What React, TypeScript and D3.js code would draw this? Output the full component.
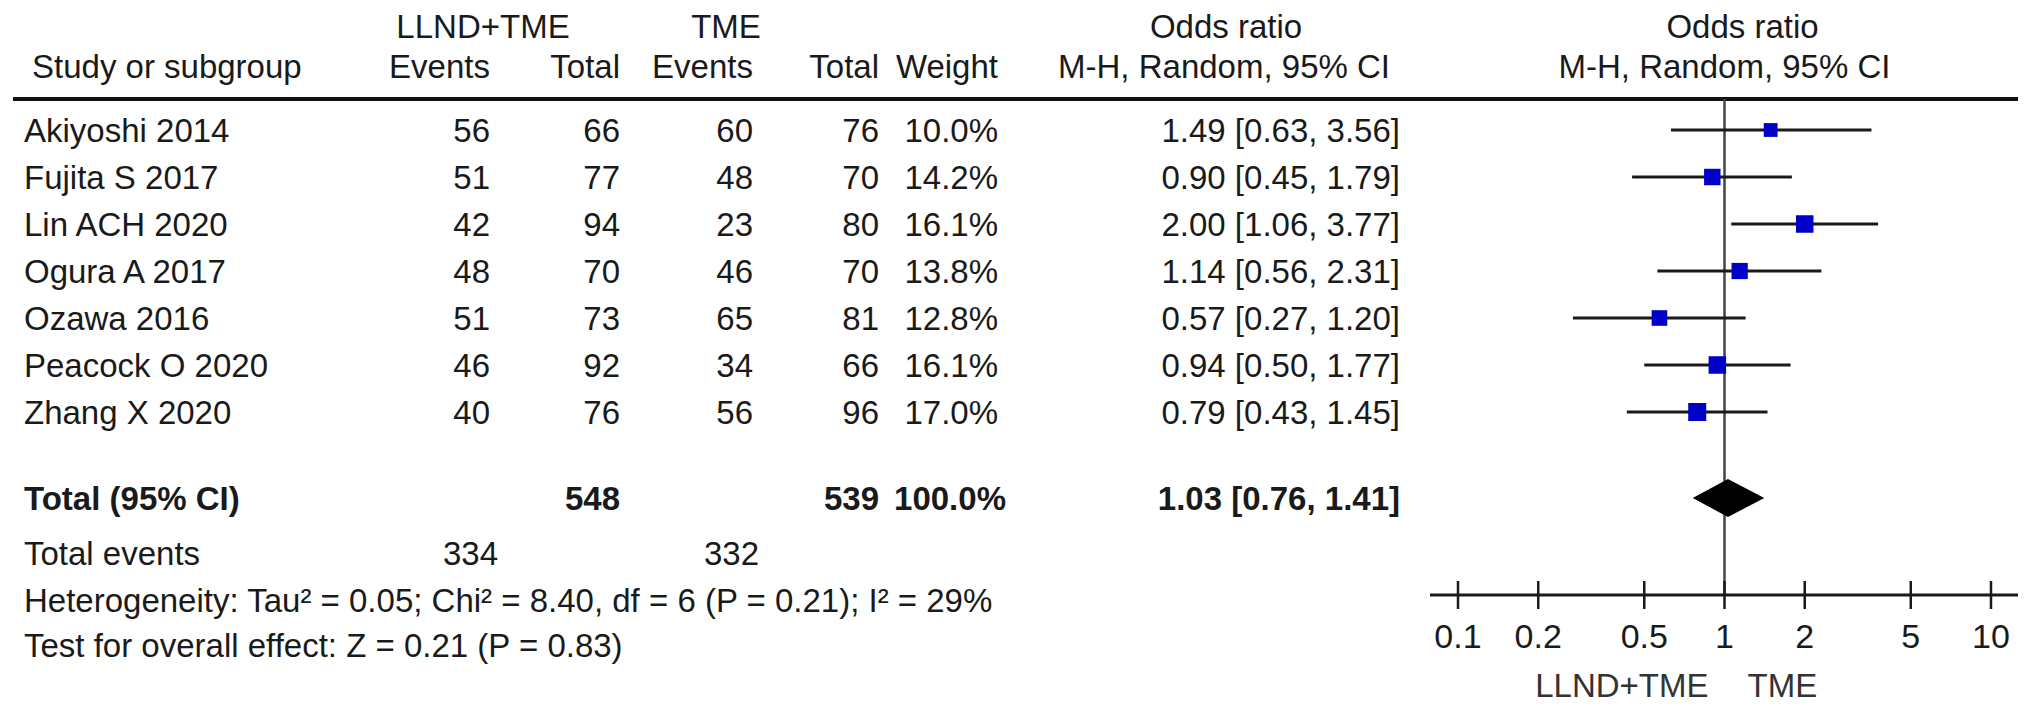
import React from "react";
import * as d3 from "d3";

const studies = ["Akiyoshi 2014", "Fujita S 2017", "Lin ACH 2020", "Ogura A 2017", "Ozawa 2016", "Peacock O 2020", "Zhang X 2020"];
const expEvents = [56, 51, 42, 48, 51, 46, 40];
const expTotal = [66, 77, 94, 70, 73, 92, 76];
const ctlEvents = [60, 48, 23, 46, 65, 34, 56];
const ctlTotal = [76, 70, 80, 70, 81, 66, 96];
const weights = [10.0, 14.2, 16.1, 13.8, 12.8, 16.1, 17.0];
const orValues = [1.49, 0.9, 2.0, 1.14, 0.57, 0.94, 0.79];
const ciLow = [0.63, 0.45, 1.06, 0.56, 0.27, 0.5, 0.43];
const ciHigh = [3.56, 1.79, 3.77, 2.31, 1.2, 1.77, 1.45];
const pooled = [1.03, 0.76, 1.41];
const totalsN = [548, 539];
const totalEvents = [334, 332];
const tickValues = [0.1, 0.2, 0.5, 1, 2, 5, 10];
const heterogeneity = "Heterogeneity: Tau\u00B2 = 0.05; Chi\u00B2 = 8.40, df = 6 (P = 0.21); I\u00B2 = 29%";
const overall = "Test for overall effect: Z = 0.21 (P = 0.83)";
const favourLabels = ["LLND+TME", "TME"];

const W = 2032;
const H = 712;
const FONT = "'Liberation Sans', Arial, Helvetica, sans-serif";
const FS = 33;
const TXT = "#1a1a1a";

const col = {
  name: 24,
  e1: 490,
  t1: 620,
  e2: 753,
  t2: 879,
  w: 998,
  or: 1400,
};

const fmt2 = d3.format(".2f");
const fmt1 = d3.format(".1f");
const orText = (o: number, l: number, h: number) => `${fmt2(o)} [${fmt2(l)}, ${fmt2(h)}]`;

export default function App() {
  const x = d3.scaleLog().domain([0.1, 10]).range([1458, 1991]);
  const y = d3.scaleLinear().domain([0, studies.length - 1]).range([130, 412]);
  const sq = d3.scaleSqrt().domain([0, 17]).range([0, 18]);

  const headY1 = 26;
  const headY2 = 66;
  const ruleY = 99;
  const totalY = 498;
  const totEvY = 553;
  const hetY = 600;
  const testY = 645;
  const axisY = 595;
  const tickLabY = 636;
  const favY = 685;

  const T = (props: any) => (
    <text
      fontFamily={FONT}
      fontSize={FS}
      fill={TXT}
      dy="0.35em"
      {...props}
    />
  );

  const diamond = d3.line()([
    [x(pooled[1]), totalY],
    [x(pooled[0]), totalY - 19],
    [x(pooled[2]), totalY],
    [x(pooled[0]), totalY + 19],
  ]) + "Z";

  return (
    <svg
      width={W}
      height={H}
      style={{ position: "absolute", left: 0, top: 0, display: "block", background: "#fff" }}
    >
      <rect x={0} y={0} width={W} height={H} fill="#fff" />
      {/* headers line 1 */}
      <T x={483} y={headY1} textAnchor="middle">LLND+TME</T>
      <T x={726} y={headY1} textAnchor="middle">TME</T>
      <T x={1226} y={headY1} textAnchor="middle">Odds ratio</T>
      <T x={x(1) + 18} y={headY1} textAnchor="middle">Odds ratio</T>
      {/* headers line 2 */}
      <T x={col.name + 8} y={headY2}>Study or subgroup</T>
      <T x={col.e1} y={headY2} textAnchor="end">Events</T>
      <T x={col.t1} y={headY2} textAnchor="end">Total</T>
      <T x={col.e2} y={headY2} textAnchor="end">Events</T>
      <T x={col.t2} y={headY2} textAnchor="end">Total</T>
      <T x={col.w} y={headY2} textAnchor="end">Weight</T>
      <T x={col.or - 10} y={headY2} textAnchor="end">M-H, Random, 95% CI</T>
      <T x={x(1)} y={headY2} textAnchor="middle">M-H, Random, 95% CI</T>

      <line x1={13} x2={2018} y1={ruleY} y2={ruleY} stroke="#111" strokeWidth={4} />

      {/* no-effect line */}
      <line x1={x(1)} x2={x(1)} y1={ruleY} y2={axisY} stroke="#444" strokeWidth={2.5} />

      {studies.map((s, i) => {
        const yy = y(i);
        const side = sq(weights[i]);
        return (
          <g key={s}>
            <T x={col.name} y={yy}>{s}</T>
            <T x={col.e1} y={yy} textAnchor="end">{expEvents[i]}</T>
            <T x={col.t1} y={yy} textAnchor="end">{expTotal[i]}</T>
            <T x={col.e2} y={yy} textAnchor="end">{ctlEvents[i]}</T>
            <T x={col.t2} y={yy} textAnchor="end">{ctlTotal[i]}</T>
            <T x={col.w} y={yy} textAnchor="end">{fmt1(weights[i])}%</T>
            <T x={col.or} y={yy} textAnchor="end">{orText(orValues[i], ciLow[i], ciHigh[i])}</T>
            <line x1={x(ciLow[i])} x2={x(ciHigh[i])} y1={yy} y2={yy} stroke="#1a1a1a" strokeWidth={3} />
            <rect x={x(orValues[i]) - side / 2} y={yy - side / 2} width={side} height={side} fill="#0000c8" />
          </g>
        );
      })}

      {/* total row */}
      <T x={col.name} y={totalY} fontWeight="bold">Total (95% CI)</T>
      <T x={col.t1} y={totalY} textAnchor="end" fontWeight="bold">{totalsN[0]}</T>
      <T x={col.t2} y={totalY} textAnchor="end" fontWeight="bold">{totalsN[1]}</T>
      <T x={col.w + 8} y={totalY} textAnchor="end" fontWeight="bold">{fmt1(d3.sum(weights))}%</T>
      <T x={col.or} y={totalY} textAnchor="end" fontWeight="bold">{orText(pooled[0], pooled[1], pooled[2])}</T>
      <path d={diamond} fill="#000" />

      <T x={col.name} y={totEvY}>Total events</T>
      <T x={col.e1 + 8} y={totEvY} textAnchor="end">{totalEvents[0]}</T>
      <T x={col.e2 + 6} y={totEvY} textAnchor="end">{totalEvents[1]}</T>
      <T x={col.name} y={hetY}>{heterogeneity}</T>
      <T x={col.name} y={testY}>{overall}</T>

      {/* axis */}
      <line x1={1430} x2={2018} y1={axisY} y2={axisY} stroke="#1a1a1a" strokeWidth={3} />
      {tickValues.map((t) => (
        <g key={t}>
          <line x1={x(t)} x2={x(t)} y1={axisY - 14} y2={axisY + 14} stroke="#1a1a1a" strokeWidth={2.5} />
          <T x={x(t)} y={tickLabY} textAnchor="middle" fontSize={34}>{String(t)}</T>
        </g>
      ))}
      <T x={x(1) - 16} y={favY} textAnchor="end" fill="#333">{favourLabels[0]}</T>
      <T x={x(1) + 23} y={favY} fill="#333">{favourLabels[1]}</T>
    </svg>
  );
}
